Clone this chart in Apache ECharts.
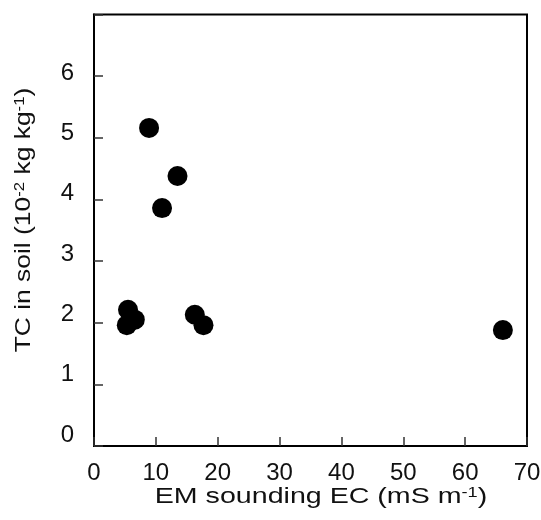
<!DOCTYPE html>
<html>
<head>
<meta charset="utf-8">
<script src="https://cdn.jsdelivr.net/npm/echarts@6/dist/echarts.min.js"></script>
<style>
  html, body { margin: 0; padding: 0; background: #fff; }
  #chart { width: 541px; height: 520px; }
</style>
</head>
<body>
<div id="chart"></div>
<script>
// EM sounding EC (mS m-1) against total carbon in soil (10-2 kg kg-1)
const ecValues = [8.9, 13.5, 11.0, 5.5, 5.3, 6.6, 16.3, 17.7, 66.1];
const tcValues = [5.16, 4.38, 3.86, 2.21, 1.96, 2.05, 2.13, 1.96, 1.88];
const xTicks = [0, 10, 20, 30, 40, 50, 60, 70];
const yTicks = [0, 1, 2, 3, 4, 5, 6];

const points = ecValues.map((x, i) => [x, tcValues[i]]);

const FONT = '"Liberation Sans", Arial, sans-serif';
const INK = '#111';

const chart = echarts.init(document.getElementById('chart'), null, { renderer: 'canvas' });

const supStyle = { fontFamily: FONT, fontSize: 14, fill: INK, verticalAlign: 'top', padding: [0, 0, 8, 0] };
const baseStyle = { fontFamily: FONT, fontSize: 22, fill: INK };

chart.setOption({
  animation: false,
  backgroundColor: '#fff',
  grid: {
    left: 94, right: 14, top: 14.5, bottom: 74,
    outerBoundsMode: 'none',
    show: true, borderColor: '#000', borderWidth: 2, backgroundColor: 'transparent'
  },
  xAxis: {
    type: 'value',
    min: 0, max: 70, interval: 10,
    axisLine: { show: true, lineStyle: { color: '#000', width: 2 } },
    axisTick: { show: true, inside: true, length: 9, lineStyle: { color: '#333', width: 1.5 } },
    axisLabel: {
      margin: 15, fontFamily: FONT, fontSize: 24, color: INK,
      customValues: xTicks
    },
    splitLine: { show: false }
  },
  yAxis: [
    {
      type: 'value',
      position: 'left',
      min: 0, max: 7, interval: 1,
      axisLine: { show: true, lineStyle: { color: '#000', width: 2 } },
      axisTick: { show: true, inside: true, length: 9, lineStyle: { color: '#333', width: 1.5 } },
      axisLabel: { show: false },
      splitLine: { show: false }
    },
    {
      // label-only axis: tick numbers sit on a slightly tighter spacing
      type: 'value',
      position: 'left',
      offset: 0,
      min: -0.18, max: 6.97,
      axisLine: { show: false },
      axisTick: { show: false },
      splitLine: { show: false },
      axisLabel: {
        margin: 20, fontFamily: FONT, fontSize: 24, color: INK,
        customValues: yTicks
      }
    }
  ],
  graphic: [
    {
      type: 'text',
      x: 321, y: 497,
      scaleX: 1.3,
      style: {
        text: 'EM sounding EC (mS m{sup|-1}{base|)}',
        fontFamily: FONT, fontSize: 22, fill: INK,
        align: 'center', verticalAlign: 'middle',
        rich: { sup: supStyle, base: baseStyle }
      }
    },
    {
      type: 'text',
      x: 24, y: 220,
      rotation: Math.PI / 2,
      scaleX: 1.2,
      style: {
        text: 'TC in soil (10{sup|-2}{base| kg kg}{sup|-1}{base|)}',
        fontFamily: FONT, fontSize: 22, fill: INK,
        align: 'center', verticalAlign: 'middle',
        rich: { sup: supStyle, base: baseStyle }
      }
    }
  ],
  series: [{
    type: 'scatter',
    yAxisIndex: 0,
    data: points,
    symbol: 'circle',
    symbolSize: 20,
    itemStyle: { color: '#000', opacity: 1 },
    emphasis: { disabled: true }
  }]
});
</script>
</body>
</html>
